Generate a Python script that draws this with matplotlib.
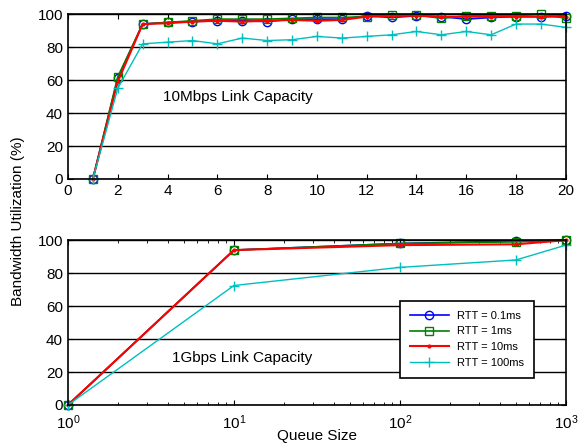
import numpy as np
import matplotlib.pyplot as plt

plt.rcParams['font.family'] = ['Liberation Sans', 'DejaVu Sans']

# 10Mbps link, queue size 1..20
q_small = list(range(1, 21))
util_01ms = [0, 61, 94, 95, 95.5, 96, 96, 95.5, 97, 97, 97, 99, 98, 99, 98.5, 97, 98, 98.5, 98.5, 99]
util_1ms = [0, 62, 94, 95, 96, 97, 97, 97, 97.5, 98, 98, 98.5, 99.5, 99.5, 97.5, 99, 99, 99, 100, 97.5]
util_10ms = [0, 59, 94, 94.5, 95.5, 96, 95.5, 96, 96.5, 96, 96.5, 98.5, 99, 99, 98.5, 98.5, 98.5, 98.5, 98.5, 98.5]
util_100ms = [0, 55, 82, 83, 84, 82, 85.5, 84, 84.5, 86.5, 85.5, 86.5, 87.5, 89.5, 87.5, 89.5, 87.5, 94, 94, 92]

# 1Gbps link, log-spaced queue sizes
q_large = [1, 10, 100, 500, 1000]
g_01ms = [0, 94, 98, 99.5, 100]
g_1ms = [0, 94, 98, 99, 100]
g_10ms = [0, 94, 97, 97.5, 100]
g_100ms = [0, 72.5, 83.5, 88, 97]

labels = ['RTT = 0.1ms', 'RTT = 1ms', 'RTT = 10ms', 'RTT = 100ms']
styles = [dict(color='blue', marker='o', mfc='none', ms=6, lw=1.2),
          dict(color='green', marker='s', mfc='none', ms=6, lw=1.2),
          dict(color='red', marker='.', ms=4, lw=1.5),
          dict(color='#00bfbf', marker='+', ms=7, lw=1.0)]

fig = plt.figure(figsize=(5.78, 4.43), dpi=100)
ax1 = fig.add_axes([0.1176, 0.596, 0.8614, 0.372])
ax2 = fig.add_axes([0.1176, 0.0858, 0.8614, 0.372])

for ys, st in zip([util_01ms, util_1ms, util_10ms, util_100ms], styles):
    ax1.plot(q_small, ys, mew=1.0, clip_on=False, **st)
for ys, st, lab in zip([g_01ms, g_1ms, g_10ms, g_100ms], styles, labels):
    ax2.plot(q_large, ys, mew=1.0, label=lab, clip_on=False, **st)

ax1.set_xlim(0, 20)
ax1.set_xticks(range(0, 21, 2))
ax2.set_xscale('log')
ax2.set_xlim(1, 1000)

for ax in (ax1, ax2):
    ax.set_ylim(0, 100)
    ax.set_yticks(range(0, 101, 20))
    ax.yaxis.grid(True, color='black', lw=1.0)
    ax.tick_params(direction='in', which='both', top=True, right=True, labelsize=11)
    for s in ax.spines.values():
        s.set_linewidth(1.2)
# keep 10^0 clear of the y "0" label
ax2.tick_params(axis='x', which='major', pad=6)

ax1.text(0.19, 0.497, '10Mbps Link Capacity', transform=ax1.transAxes, fontsize=11, va='center')
ax2.text(0.209, 0.285, '1Gbps Link Capacity', transform=ax2.transAxes, fontsize=11, va='center')

ax2.set_xlabel('Queue Size', fontsize=11, labelpad=-2)
fig.text(0.031, 0.5, 'Bandwidth Utilization (%)', rotation=90, va='center', ha='center', fontsize=11)

leg = ax2.legend(loc='lower right', bbox_to_anchor=(0.948, 0.133), fontsize=8,
                 fancybox=False, framealpha=1, edgecolor='black', handlelength=3.5,
                 handletextpad=0.8, borderpad=0.9, labelspacing=0.5)
leg.get_frame().set_linewidth(1.2)

fig.savefig('out.png', dpi=100)
